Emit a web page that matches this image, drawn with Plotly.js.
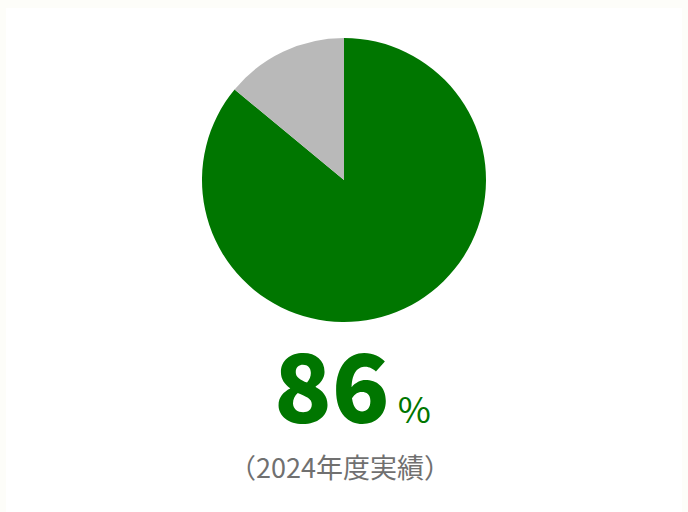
<!DOCTYPE html>
<html><head><meta charset="utf-8">
<script src="https://cdn.plot.ly/plotly-3.0.1.min.js"></script>
<style>html,body{margin:0;padding:0;background:#fdfdf9;}#chart{width:688px;height:512px;}</style>
</head><body><div id="chart"></div>
<script>
const labels = ['実績', 'その他'];
const values = [86, 14];
const colors = ['#007600', '#b9b9b9'];
const mainValue = '86';
const unit = '%';
const caption = '（2024年度実績）';

const W = 688, H = 512;
const data = [{
  type: 'pie',
  labels: labels,
  values: values,
  sort: false,
  direction: 'clockwise',
  rotation: 0,
  marker: {colors: colors, line: {width: 0}},
  textinfo: 'none',
  hoverinfo: 'none',
  showlegend: false,
  domain: {x: [202 / W, 486 / W], y: [1 - 322 / H, 1 - 38 / H]}
}];
const layout = {
  width: W, height: H,
  margin: {l: 0, r: 0, t: 0, b: 0},
  paper_bgcolor: '#fdfdf9',
  font: {family: '"Noto Sans CJK JP", "Noto Sans", sans-serif'},
  shapes: [{type: 'rect', xref: 'paper', yref: 'paper', x0: 6 / W, x1: 1 - 6 / W, y0: 0, y1: 1 - 8 / H,
    fillcolor: '#ffffff', line: {width: 0}, layer: 'below'}],
  annotations: [
    {xref: 'paper', yref: 'paper', x: 352 / W, y: 1 - 381 / H, xanchor: 'center', yanchor: 'middle',
     showarrow: false,
     text: '<span style="font-weight:900">' + mainValue + '</span><span style="font-size:36px"> ' + unit + '</span>',
     font: {size: 95, color: '#007600'}},
    {xref: 'paper', yref: 'paper', x: 340 / W, y: 1 - 466 / H, xanchor: 'center', yanchor: 'middle',
     showarrow: false, text: caption, font: {size: 27, color: '#707070'}}
  ]
};
Plotly.newPlot('chart', data, layout, {displayModeBar: false, staticPlot: true});
</script></body></html>
